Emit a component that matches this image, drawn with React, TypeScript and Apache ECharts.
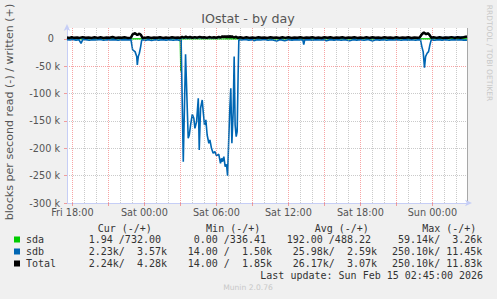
import React, { useEffect, useRef } from 'react';
import * as echarts from 'echarts';

// ---- axis domains (time in hours since Fri 00:00) ----
const timeStart = 17.55;
const timeEnd = 50.883;
const xLabelHours = [18, 24, 30, 36, 42, 48];
const xLabelTexts = ['Fri 18:00', 'Sat 00:00', 'Sat 06:00', 'Sat 12:00', 'Sat 18:00', 'Sun 00:00'];
const majorGridHours = [18, 21, 24, 27, 30, 33, 36, 39, 42, 45, 48];
const minorGridHours = [19, 20, 22, 23, 25, 26, 28, 29, 31, 32, 34, 35, 37, 38, 40, 41, 43, 44, 46, 47, 49, 50];
const yMin = -300000;
const yMax = 20000;
const yMajorTicks = [-300000, -250000, -200000, -150000, -100000, -50000, 0];

// ---- series data: [hour, blocks/s]; read is negative, write positive ----
const sdaRead: [number, number][] = [
  [17.55, 0], [26.97, 0], [27.02, -59140], [27.1, -800], [27.2, 0], [50.88, -2],
];
const sdaWrite: [number, number][] = [
  [17.55, 500], [22, 400], [23.2, 600], [27.1, 900], [30.7, 3260], [30.8, 600], [36, 450],
  [44, 500], [47.3, 700], [50.88, 732],
];
const sdbRead: [number, number][] = [
  [17.55, -1300], [17.8, -2000], [18.05, -1100], [18.3, -2200], [18.55, -1500], [18.72, -8200],
  [18.85, -1600], [19.1, -1200], [19.4, -2300], [19.7, -1400], [20.0, -1900], [20.3, -1000],
  [20.6, -2500], [20.9, -1500], [21.2, -2000], [21.5, -1200], [21.8, -2400], [22.1, -1400],
  [22.4, -1800], [22.7, -1300], [22.88, -1700], [23.02, -20100], [23.22, -23200], [23.36, -32300],
  [23.41, -47600], [23.49, -32300], [23.58, -26200], [23.69, -14000], [23.77, -2600], [23.85, -1300],
  [24.07, -2800], [24.3, -1300], [24.6, -2700], [24.9, -1500], [25.2, -2400], [25.5, -1200],
  [25.8, -2100], [26.1, -1400], [26.4, -2500], [26.7, -1600], [26.95, -2600], [27.06, -2000],
  [27.24, -224400], [27.43, -28000], [27.65, -181700], [27.74, -175600], [27.85, -157300],
  [27.99, -137800], [28.12, -145100], [28.21, -163400], [28.35, -151200], [28.49, -108500],
  [28.57, -203000], [28.68, -126800], [28.82, -111600], [28.9, -132900], [29.01, -157300],
  [29.12, -148100], [29.23, -175600], [29.37, -190800], [29.46, -184700], [29.59, -200000],
  [29.73, -209100], [29.87, -206100], [30.01, -213400], [30.2, -210900], [30.34, -227400],
  [30.43, -218300], [30.51, -224400], [30.62, -215200], [30.73, -233500], [30.84, -229200],
  [30.93, -250100], [31.04, -175600], [31.12, -126800], [31.2, -90200], [31.29, -190800],
  [31.4, -132900], [31.48, -32300], [31.56, -157300], [31.65, -178600], [31.73, -169500],
  [31.81, -65800], [31.87, -1500], [32.1, -2000], [32.4, -1100], [32.7, -2200], [33.0, -1300],
  [33.12, -3200], [33.4, -1500], [33.7, -2000], [34.0, -1100], [34.3, -2300], [34.6, -1400],
  [35.03, -3600], [35.3, -1300], [35.7, -3300], [36.0, -1500], [36.3, -2200], [36.6, -1200],
  [36.9, -1900], [37.2, -1600], [37.28, -10500], [37.36, -1800], [37.7, -1300], [38.0, -2300],
  [38.3, -1200], [38.6, -2000], [38.9, -1400], [39.17, -3200], [39.5, -1300], [39.8, -2100],
  [40.1, -1200], [40.4, -2400], [40.7, -1500], [41.1, -3400], [41.4, -1300], [41.7, -2100],
  [42.0, -1500], [42.3, -2500], [42.6, -1200], [43.04, -3500], [43.3, -1300], [43.6, -2200],
  [43.9, -1600], [44.2, -2500], [44.5, -1300], [44.8, -2000], [45.1, -1400], [45.4, -2300],
  [45.7, -1200], [46.0, -2100], [46.3, -1500], [46.6, -2400], [46.85, -1300], [47.01, -2000],
  [47.12, -14000], [47.23, -23200], [47.34, -52400], [47.43, -32300], [47.56, -26200],
  [47.68, -23200], [47.79, -11000], [47.9, -1800], [48.2, -2300], [48.5, -1300], [48.8, -2200],
  [49.1, -1400], [49.4, -2500], [49.7, -1300], [50.0, -2000], [50.3, -1500], [50.6, -2200],
  [50.88, -2230],
];
const sdbWrite: [number, number][] = [
  [17.55, 1900], [19, 2300], [21, 1800], [22.88, 2000], [23.02, 8100], [23.22, 10000],
  [23.41, 7000], [23.58, 9300], [23.72, 7000], [23.83, 1900], [26, 2100], [27.0, 1700],
  [28, 2500], [30, 2000], [31, 4500], [32, 2200], [35, 2000], [38, 2300], [41, 1900], [44, 2200],
  [46.93, 2000], [47.12, 8200], [47.29, 11450], [47.48, 8200], [47.62, 10000], [47.76, 7000],
  [47.9, 2000], [50.88, 3570],
];
const totalWrite: [number, number][] = [
  [17.55, 2500], [17.75, 1900], [17.95, 3200], [18.15, 2000], [18.4, 2800], [18.6, 1900],
  [18.85, 3300], [19.1, 2100], [19.35, 2600], [19.6, 1900], [19.85, 3100], [20.1, 1950],
  [20.35, 2900], [20.6, 1900], [20.85, 2700], [21.1, 2200], [21.35, 3400], [21.6, 1900],
  [21.85, 2600], [22.1, 2000], [22.35, 3000], [22.6, 1900], [22.88, 2400], [23.02, 8500],
  [23.22, 10400], [23.41, 7300], [23.58, 9700], [23.72, 7300], [23.83, 2300], [24.05, 1950],
  [24.3, 3200], [24.55, 1900], [24.8, 2700], [25.05, 2100], [25.3, 3100], [25.55, 1900],
  [25.8, 2500], [26.05, 1900], [26.3, 3000], [26.55, 2000], [26.8, 2800], [27.0, 1900],
  [27.15, 4000], [27.3, 2200], [27.45, 4300], [27.6, 2400], [27.8, 3600], [28.0, 2100],
  [28.2, 3300], [28.4, 2300], [28.6, 3700], [28.8, 2500], [29.0, 3100], [29.2, 2000],
  [29.4, 3400], [29.6, 2400], [29.8, 3000], [30.0, 2200], [30.2, 3800], [30.35, 2400],
  [30.5, 5000], [30.6, 2600], [30.7, 5400], [30.8, 2700], [30.9, 5200], [31.0, 2500],
  [31.1, 5600], [31.2, 2800], [31.3, 4900], [31.45, 2400], [31.6, 4000], [31.8, 2100],
  [32.0, 2900], [32.25, 1900], [32.5, 3100], [32.75, 1950], [33.0, 2700], [33.25, 1900],
  [33.5, 3000], [33.75, 2000], [34.0, 2800], [34.25, 1900], [34.5, 3200], [34.75, 2100],
  [35.0, 2600], [35.25, 1900], [35.5, 2900], [35.75, 1950], [36.0, 3100], [36.25, 1900],
  [36.5, 2700], [36.75, 2200], [37.0, 3000], [37.25, 1900], [37.5, 2800], [37.75, 2000],
  [38.0, 3200], [38.25, 1900], [38.5, 2600], [38.75, 1900], [39.0, 2900], [39.25, 2100],
  [39.5, 3100], [39.75, 1900], [40.0, 2700], [40.25, 2000], [40.5, 3000], [40.75, 1900],
  [41.0, 2800], [41.25, 2200], [41.5, 3200], [41.75, 1900], [42.0, 2600], [42.25, 1950],
  [42.5, 3100], [42.75, 1900], [43.0, 2900], [43.25, 2100], [43.5, 2700], [43.75, 1900],
  [44.0, 3000], [44.25, 2000], [44.5, 2800], [44.75, 1900], [45.0, 3200], [45.25, 1950],
  [45.5, 2600], [45.75, 2100], [46.0, 2900], [46.25, 1900], [46.5, 2800], [46.75, 2000],
  [46.93, 2400], [47.12, 8500], [47.29, 11830], [47.48, 8500], [47.62, 10400], [47.76, 7300],
  [47.9, 2300], [48.1, 3200], [48.35, 1950], [48.6, 3000], [48.85, 1900], [49.1, 2700],
  [49.35, 2200], [49.6, 3300], [49.85, 1900], [50.1, 2900], [50.35, 2100], [50.6, 3100],
  [50.88, 4280],
];

// ---- legend table ----
const legendNames = ['sda', 'sdb', 'Total'];
const legendColors = ['#00cc00', '#0066b3', '#000000'];
const legendHeaders = ['Cur (-/+)', 'Min (-/+)', 'Avg (-/+)', 'Max (-/+)'];
const legendCur = ['  1.94 /732.00 ', '  2.23k/  3.57k', '  2.24k/  4.28k'];
const legendMin = ['  0.00 /336.41 ', ' 14.00 /  1.50k', ' 14.00 /  1.85k'];
const legendAvg = ['192.00 /488.22 ', ' 25.98k/  2.59k', ' 26.17k/  3.07k'];
const legendMax = [' 59.14k/  3.26k', '250.10k/ 11.45k', '250.10k/ 11.83k'];
const lastUpdate = 'Last update: Sun Feb 15 02:45:00 2026';
const titleText = 'IOstat - by day';
const yAxisTitle = 'blocks per second read (-) / written (+)';
const watermark = 'RRDTOOL / TOBI OETIKER';
const footer = 'Munin 2.0.76';

// ---- layout / style ----
const GRID_LEFT = 67;
const GRID_TOP = 28;
const GRID_W = 400;
const GRID_H = 175;
const AXIS_COLOR = '#c6cef6';
const MAJOR = 'rgba(240,90,90,0.55)';
const MINOR = 'rgba(150,150,150,0.5)';
const SANS = 'DejaVu Sans';
const MONO = 'DejaVu Sans Mono';
const TEXT = '#555555';
const LEG_TEXT = '#333333';

const nb = (s: string) => s.replace(/ /g, '\u00a0');

function txt(text: string, x: number, y: number, extra: any = {}) {
  const { align = 'left', size = 10, family = SANS, color = TEXT, rotation } = extra;
  const el: any = {
    type: 'text',
    x,
    y,
    silent: true,
    style: {
      text,
      x: 0,
      y: 0,
      fill: color,
      fontSize: size,
      fontFamily: family,
      textAlign: align,
      align,
      textVerticalAlign: 'middle',
      verticalAlign: 'middle',
    },
  };
  if (rotation !== undefined) el.rotation = rotation;
  return el;
}

export default function App() {
  const ref = useRef<HTMLDivElement>(null);

  useEffect(() => {
    if (!ref.current) return;
    const chart = echarts.init(ref.current, undefined, { renderer: 'svg' });

    const line = (name: string, data: [number, number][], color: string, width: number, z: number) => ({
      type: 'line',
      name,
      data,
      symbol: 'none',
      showSymbol: false,
      silent: true,
      lineStyle: { color, width },
      itemStyle: { color },
      z,
      animation: false,
    });

    const gridLines = [
      ...minorGridHours.map((h) => ({ xAxis: h, lineStyle: { color: MINOR, type: [1, 1], width: 1 } })),
      ...majorGridHours.map((h) => ({ xAxis: h, lineStyle: { color: MAJOR, type: [1, 1], width: 1 } })),
    ];

    const graphics: any[] = [];
    graphics.push(txt(titleText, 248, 18.5, { align: 'center', size: 12.7 }));
    graphics.push(txt(yAxisTitle, 9, 112, { align: 'center', size: 11.1, rotation: Math.PI / 2 }));
    graphics.push(txt(watermark, 489.5, 53, { align: 'center', size: 7.5, color: '#c8c8c8', rotation: -Math.PI / 2 }));
    graphics.push({
      type: 'line',
      silent: true,
      shape: { x1: GRID_LEFT + GRID_W + 0.5, y1: GRID_TOP, x2: GRID_LEFT + GRID_W + 0.5, y2: GRID_TOP + GRID_H },
      style: { stroke: '#a8a8a8', lineWidth: 1 },
    });

    const headerX = [97.7, 206.1, 314.7, 422.2];
    legendHeaders.forEach((h, i) => graphics.push(txt(nb(h), headerX[i], 228, { family: MONO, color: LEG_TEXT })));
    const fieldX = [76.7, 181.7, 286.7, 392.0];
    const rowY = [239.5, 251.5, 263.5];
    legendNames.forEach((n, i) => {
      graphics.push({
        type: 'rect',
        silent: true,
        shape: { x: 14, y: rowY[i] - 3, width: 6, height: 6 },
        style: { fill: legendColors[i] },
      });
      graphics.push(txt(n, 26, rowY[i], { family: MONO, color: LEG_TEXT }));
      [legendCur, legendMin, legendAvg, legendMax].forEach((col, j) => {
        graphics.push(txt(nb(col[i]), fieldX[j], rowY[i], { family: MONO, color: LEG_TEXT }));
      });
    });
    graphics.push(txt(nb(lastUpdate), 260.3, 275.5, { family: MONO, color: LEG_TEXT }));
    graphics.push(txt(footer, 248, 287.7, { align: 'center', size: 7.6, color: '#c8c8c8' }));

    chart.setOption({
      animation: false,
      backgroundColor: '#f0f0f0',
      grid: {
        left: GRID_LEFT,
        top: GRID_TOP,
        width: GRID_W,
        height: GRID_H,
        show: true,
        backgroundColor: '#ffffff',
        borderWidth: 0,
      },
      xAxis: {
        type: 'value',
        min: timeStart,
        max: timeEnd,
        axisLine: {
          show: true,
          onZero: false,
          lineStyle: { color: AXIS_COLOR, width: 1 },
          symbol: ['none', 'arrow'],
          symbolSize: [5, 7],
          symbolOffset: [0, 5],
        },
        axisTick: { show: true, length: 3, customValues: majorGridHours, lineStyle: { color: MAJOR } },
        axisLabel: {
          customValues: xLabelHours,
          formatter: (v: number) => {
            const i = xLabelHours.findIndex((h) => Math.abs(h - v) < 1e-6);
            return i >= 0 ? xLabelTexts[i] : '';
          },
          fontFamily: SANS,
          fontSize: 9.7,
          color: TEXT,
          margin: 4,
        },
        splitLine: { show: false },
      },
      yAxis: {
        type: 'value',
        min: yMin,
        max: yMax,
        interval: 10000,
        axisLine: {
          show: true,
          lineStyle: { color: AXIS_COLOR, width: 1 },
          symbol: ['none', 'arrow'],
          symbolSize: [5, 7],
          symbolOffset: [0, 4],
        },
        axisTick: { show: true, length: 3, customValues: yMajorTicks, lineStyle: { color: MAJOR } },
        axisLabel: {
          formatter: (v: number) => {
            if (v === 0) return '0\u00a0\u00a0';
            if (v % 50000 === 0 && v < 0) return `${v / 1000} k`;
            return '';
          },
          fontFamily: SANS,
          fontSize: 9.7,
          color: TEXT,
          margin: 7,
        },
        splitLine: {
          show: true,
          lineStyle: { color: [MAJOR, MINOR, MINOR, MINOR, MINOR], type: [1, 1], width: 1 },
        },
      },
      series: [
        {
          type: 'line',
          name: 'grid',
          data: [],
          silent: true,
          z: 1,
          markLine: {
            silent: true,
            symbol: ['none', 'none'],
            label: { show: false },
            animation: false,
            data: gridLines,
          },
        },
        line('sda write', sdaWrite, legendColors[0], 0.7, 2),
        line('sda read', sdaRead, legendColors[0], 1, 2),
        line('sdb read', sdbRead, legendColors[1], 1.6, 3),
        line('sdb write', sdbWrite, legendColors[1], 1.5, 5),
        line('Total write', totalWrite, legendColors[2], 2.5, 6),
      ],
      graphic: graphics,
    });

    return () => chart.dispose();
  }, []);

  return <div ref={ref} style={{ position: 'absolute', left: 0, top: 0, width: 497, height: 299 }} />;
}
